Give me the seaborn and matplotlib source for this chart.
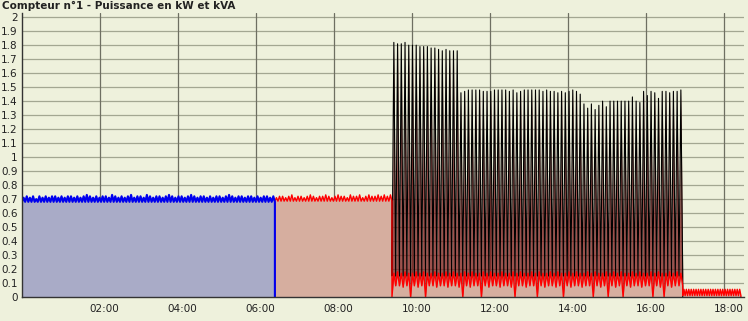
import numpy as np
import pandas as pd
import matplotlib
matplotlib.use("Agg")
import matplotlib.pyplot as plt
import seaborn as sns
from matplotlib.transforms import ScaledTranslation

# ---------------- data ----------------
title = "Compteur n°1 - Puissance en kW et kVA"

# segment boundaries (hours)
t_start = 0.0
t_blue_end = 6.48
t_flat_end = 9.48
t_active_end = 16.93
t_tail_end = 18.42

# blue series (kW, first period) : peaks of the small ripple and base level
blue_peaks = [0.71, 0.72, 0.71, 0.72, 0.70, 0.72, 0.71, 0.72, 0.71, 0.72,
              0.72, 0.71, 0.72, 0.71, 0.72, 0.72, 0.71, 0.72, 0.71, 0.72,
              0.73, 0.72, 0.71, 0.72, 0.71, 0.72, 0.72, 0.71, 0.73, 0.72,
              0.71, 0.72, 0.71, 0.72, 0.73, 0.71, 0.72, 0.72, 0.71, 0.73,
              0.72, 0.71, 0.72, 0.72, 0.71, 0.72, 0.73, 0.72, 0.71, 0.72,
              0.72, 0.71, 0.72, 0.73, 0.72, 0.71, 0.72, 0.72, 0.71, 0.72,
              0.71, 0.72, 0.72, 0.71, 0.72, 0.73, 0.72, 0.71, 0.72, 0.72,
              0.71, 0.72, 0.72, 0.71, 0.72, 0.71, 0.72, 0.72, 0.71, 0.72]
blue_low = 0.68

# red series (kW) flat period
red_flat_peaks = [0.71, 0.72, 0.72, 0.71, 0.72, 0.73, 0.71, 0.72, 0.72, 0.71,
                  0.72, 0.73, 0.72, 0.71, 0.72, 0.72, 0.73, 0.72, 0.71, 0.72,
                  0.73, 0.72, 0.72, 0.71, 0.73, 0.72, 0.72, 0.73, 0.71, 0.72,
                  0.73, 0.72, 0.72, 0.73, 0.72, 0.73, 0.72, 0.73]
red_flat_low = 0.685

# black series (kVA) spikes during the active period
kva_peaks = [1.82, 1.81, 1.81, 1.82, 1.80, 1.80, 1.80, 1.79, 1.79, 1.79,
             1.78, 1.78, 1.77, 1.76, 1.77, 1.76, 1.76, 1.76,
             1.46, 1.47, 1.48, 1.48, 1.48, 1.48, 1.47, 1.47, 1.47, 1.48,
             1.48, 1.48, 1.48, 1.47, 1.48, 1.46, 1.47, 1.48, 1.48, 1.48,
             1.48, 1.48, 1.47, 1.48, 1.47, 1.47, 1.46, 1.47, 1.46, 1.47,
             1.48, 1.47,
             1.45, 1.38, 1.35, 1.38, 1.34, 1.37, 1.40, 1.36, 1.40, 1.40,
             1.40, 1.40, 1.40,
             1.40, 1.43, 1.40, 1.39, 1.47, 1.44, 1.47, 1.46, 1.42, 1.47,
             1.47, 1.46, 1.47, 1.47, 1.48]
kva_start = 0.69
kva_low = 0.15

# red series (kW) during the active period
kw_peaks = [0.17, 0.18, 0.17, 0.18, 0.17, 0.17, 0.18, 0.17, 0.18, 0.17,
            0.17, 0.18, 0.17, 0.17, 0.18, 0.17, 0.18, 0.17, 0.17, 0.18,
            0.17, 0.18, 0.17, 0.17, 0.18, 0.17, 0.18, 0.17, 0.17, 0.18,
            0.17, 0.17, 0.18, 0.17, 0.18, 0.17, 0.17, 0.18, 0.17, 0.18,
            0.17, 0.17, 0.18, 0.17, 0.18, 0.17, 0.17, 0.18, 0.17, 0.18,
            0.17, 0.17, 0.18, 0.17, 0.18, 0.17, 0.17, 0.18, 0.17, 0.18,
            0.17, 0.18, 0.17, 0.17, 0.18, 0.17, 0.18, 0.17, 0.17, 0.18,
            0.17, 0.18, 0.17, 0.17, 0.18, 0.17, 0.18, 0.17]
kw_lows = [0.00, 0.08, 0.08, 0.07, 0.08, 0.00, 0.08, 0.07, 0.08, 0.00,
           0.08, 0.08, 0.07, 0.08, 0.08, 0.07, 0.08, 0.08, 0.07, 0.00,
           0.08, 0.07, 0.08, 0.08, 0.00, 0.08, 0.07, 0.08, 0.08, 0.07,
           0.08, 0.08, 0.07, 0.00, 0.08, 0.08, 0.07, 0.08, 0.08, 0.00,
           0.08, 0.07, 0.08, 0.08, 0.07, 0.08, 0.00, 0.08, 0.07, 0.08,
           0.08, 0.07, 0.08, 0.08, 0.00, 0.08, 0.07, 0.08, 0.00, 0.08,
           0.07, 0.08, 0.00, 0.08, 0.07, 0.08, 0.08, 0.07, 0.08, 0.08,
           0.00, 0.08, 0.07, 0.00, 0.08, 0.07, 0.08, 0.08]

# red series (kW) tail period
tail_peaks = [0.055] * 24
tail_low = 0.01

hour_ticks = [2, 4, 6, 8, 10, 12, 14, 16, 18]
hour_labels = ["02:00", "04:00", "06:00", "08:00", "10:00",
               "12:00", "14:00", "16:00", "18:00"]
y_ticks = [0, 0.1, 0.2, 0.3, 0.4, 0.5, 0.6, 0.7, 0.8, 0.9, 1.0,
           1.1, 1.2, 1.3, 1.4, 1.5, 1.6, 1.7, 1.8, 1.9, 2.0]
y_labels = ["0", "0.1", "0.2", "0.3", "0.4", "0.5", "0.6", "0.7", "0.8", "0.9",
            "1", "1.1", "1.2", "1.3", "1.4", "1.5", "1.6", "1.7", "1.8", "1.9", "2"]


# ---------------- build series ----------------
def ripple(t0, t1, peaks, lows):
    n = len(peaks)
    if np.isscalar(lows):
        lows = [lows] * n
    t = np.linspace(t0, t1, 2 * n + 1)
    v = []
    for lo, pk in zip(lows, peaks):
        v += [lo, pk]
    v.append(lows[-1])
    return list(t), v


bt, bv = ripple(t_start, t_blue_end, blue_peaks, blue_low)
blue_t = bt + [t_blue_end]
blue_v = bv + [0.0]

rt1, rv1 = ripple(t_blue_end, t_flat_end, red_flat_peaks, red_flat_low)
rt2, rv2 = ripple(t_flat_end, t_active_end, kw_peaks, kw_lows)
rt3, rv3 = ripple(t_active_end, t_tail_end, tail_peaks, tail_low)
red_t = [t_blue_end] + rt1 + rt2 + rt3 + [t_tail_end]
red_v = [0.0] + rv1 + rv2 + rv3 + [0.0]

kt, kv = ripple(t_flat_end, t_active_end, kva_peaks, kva_low)
kva_t = [t_flat_end] + kt + [t_active_end]
kva_v = [kva_start] + kv + [0.0]

df_blue = pd.DataFrame({"t": blue_t, "v": blue_v})
df_red = pd.DataFrame({"t": red_t, "v": red_v})
df_kva = pd.DataFrame({"t": kva_t, "v": kva_v})

# ---------------- style ----------------
bg = "#EEF1DC"
sns.set_theme(style="white", rc={"axes.facecolor": bg, "figure.facecolor": bg})
plt.rcParams["font.family"] = ["DejaVu Sans"]

fig = plt.figure(figsize=(7.48, 3.21), dpi=100)
ax = fig.add_axes([22 / 748, 24 / 321, 722 / 748, 284 / 321])
ax.set_facecolor(bg)

# fills
ax.fill_between(df_blue["t"], 0, df_blue["v"], color="#A9ABC7", lw=0, zorder=1)
ax.fill_between(df_kva["t"], 0, df_kva["v"], color="#841C1C", alpha=0.75, lw=0, zorder=1)
ax.fill_between(df_red["t"], 0, df_red["v"], color="#D6AE9F", lw=0, zorder=2)

# lines
sns.lineplot(data=df_kva, x="t", y="v", estimator=None, sort=False,
             color="#000000", lw=0.8, ax=ax, zorder=4)
sns.lineplot(data=df_red, x="t", y="v", estimator=None, sort=False,
             color="#FF0000", lw=1.0, ax=ax, zorder=5)
sns.lineplot(data=df_blue, x="t", y="v", estimator=None, sort=False,
             color="#0000EE", lw=1.5, ax=ax, zorder=5)

ax.set_xlim(0, 18.5)
ax.set_ylim(0, 2.03)

# grid
for y in y_ticks[1:]:
    ax.axhline(y, color="#A3A792", lw=0.9, zorder=0.5)
for h in hour_ticks:
    ax.axvline(h, color="#6E6F62", lw=0.9, zorder=0.6)

ax.set_xticks(hour_ticks)
ax.set_xticklabels(hour_labels)
ax.set_yticks(y_ticks)
ax.set_yticklabels(y_labels)
ax.tick_params(axis="both", length=0, labelsize=7.5, colors="#222222")
ax.tick_params(axis="x", pad=5)
ax.tick_params(axis="y", pad=3)
offset = ScaledTranslation(4 / 100, 0, fig.dpi_scale_trans)
for lab in ax.get_xticklabels():
    lab.set_transform(lab.get_transform() + offset)

ax.set_xlabel("")
ax.set_ylabel("")
for s in ["top", "right"]:
    ax.spines[s].set_visible(False)
for s in ["left", "bottom"]:
    ax.spines[s].set_color("#333333")
    ax.spines[s].set_linewidth(1.0)
    ax.spines[s].set_zorder(6)

fig.text(2 / 748, 1 - 9 / 321, title, fontsize=7.5, fontweight="bold",
         va="baseline", ha="left", color="#222222")

fig.savefig("out.png", dpi=100, facecolor=bg)
